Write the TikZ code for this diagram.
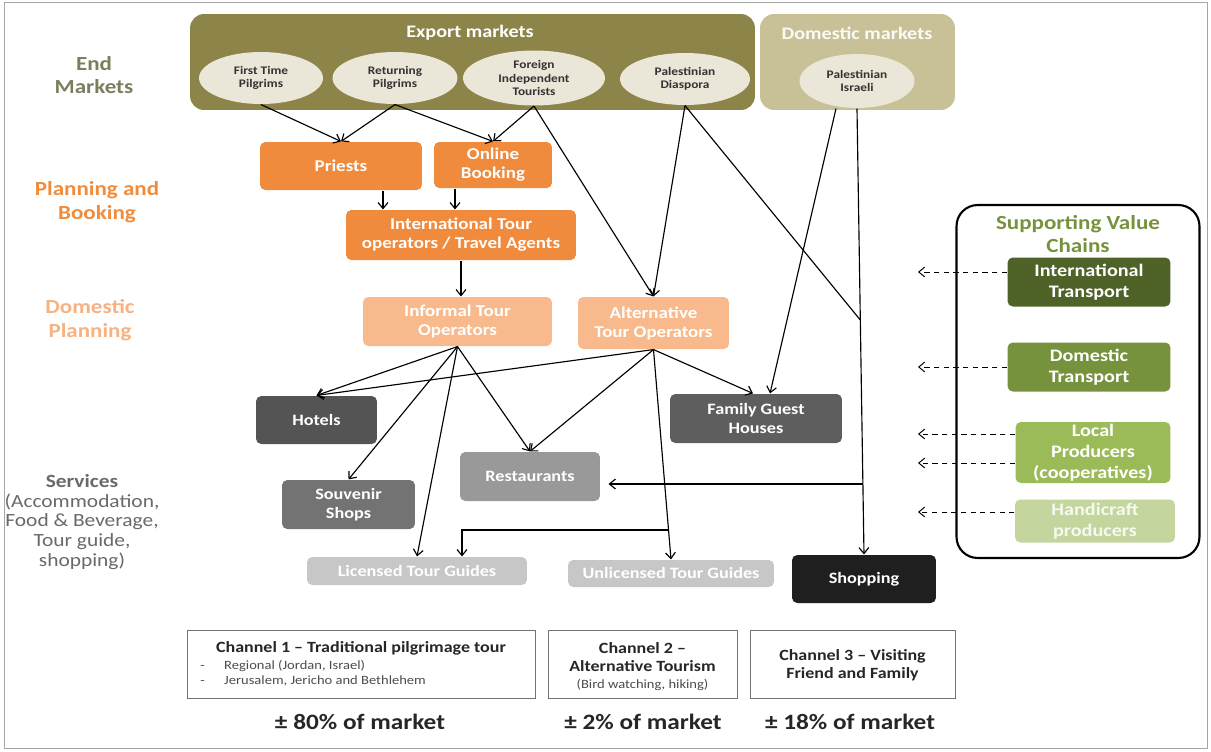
\documentclass[tikz,border=0pt]{standalone}
\usepackage{fontspec}
\setmainfont{Carlito}[FakeStretch=1.15]
\usepackage{tikz}
\usepackage{xcolor}
\usetikzlibrary{arrows,arrows.meta,positioning,shapes}

\definecolor{expolive}{RGB}{140,132,72}
\definecolor{domolive}{RGB}{200,193,152}
\definecolor{ellbeige}{RGB}{234,231,216}
\definecolor{endcol}{RGB}{125,125,95}
\definecolor{planorange}{RGB}{240,140,60}
\definecolor{domorange}{RGB}{246,178,128}
\definecolor{boxorange}{RGB}{240,138,60}
\definecolor{lightorange}{RGB}{248,186,140}
\definecolor{servgray}{RGB}{105,105,105}
\definecolor{greenA}{RGB}{79,98,40}
\definecolor{greenB}{RGB}{118,146,60}
\definecolor{greenC}{RGB}{155,187,89}
\definecolor{greenD}{RGB}{196,214,158}

\begin{document}
\begin{tikzpicture}[x=0.02cm,y=-0.02cm,>={Straight Barb[length=3.4pt,width=5.6pt]},line width=0.65pt,
  box/.style={rectangle,rounded corners=3pt,text=white,align=center,inner sep=1pt,
    font=\fontsize{9.4}{10.8}\selectfont\bfseries},
  svbox/.style={box,font=\fontsize{9}{10.6}\selectfont\bfseries},
  gbox/.style={box,font=\fontsize{10}{11.8}\selectfont\bfseries},
  mkt/.style={ellipse,fill=ellbeige,inner sep=0pt,align=center,text=black!80,
    font=\fontsize{6.6}{7.7}\selectfont\bfseries},
  stage/.style={align=center,font=\fontsize{11.4}{13.6}\selectfont\bfseries},
  chbox/.style={rectangle,draw=black!55,line width=0.5pt,minimum height=1.36cm},
  chtext/.style={align=center,text=black!85,font=\fontsize{8.9}{10.4}\selectfont\bfseries},
  share/.style={text=black!85,font=\fontsize{12.5}{14}\selectfont\bfseries},
  dasharrow/.style={->,dashed,dash pattern=on 3pt off 2.5pt,line width=0.55pt}]
  \useasboundingbox (0,0) rectangle (1211,751);
  \draw[gray!70,line width=0.5pt] (4,2) rectangle (1207,748);

  % stages
  \node[stage,text=endcol] (endm) at (94,75) {End\\Markets};
  \node[stage,text=planorange] (plan) at (97,202) {Planning and\\Booking};
  \node[stage,text=domorange] (domp) at (90,320) {Domestic\\Planning};
  \node[align=center,text=servgray,font=\fontsize{10.6}{11.3}\selectfont] (serv) at (82,522)
    {\textbf{Services}\\(Accommodation,\\Food \& Beverage,\\Tour guide,\\shopping)};

  % end markets
  \node[rectangle,rounded corners=8pt,fill=expolive,minimum width=11.3cm,minimum height=1.92cm] (expm) at (472.5,62) {};
  \node[rectangle,rounded corners=8pt,fill=domolive,minimum width=3.9cm,minimum height=1.92cm] (domm) at (857.5,62) {};
  \node[text=white,font=\fontsize{10}{12}\selectfont\bfseries] (expt) at (470,33) {Export markets};
  \node[text=white!92!domolive,font=\fontsize{10}{12}\selectfont\bfseries] (domt) at (857,33) {Domestic markets};
  \node[mkt,minimum width=2.48cm,minimum height=1.04cm] (fp) at (261,78) {First Time\\Pilgrims};
  \node[mkt,minimum width=2.5cm,minimum height=1.04cm] (rp) at (395,78) {Returning\\Pilgrims};
  \node[mkt,minimum width=2.84cm,minimum height=1.1cm] (fit) at (534,78) {Foreign\\Independent\\Tourists};
  \node[mkt,minimum width=2.6cm,minimum height=1.04cm] (dia) at (685,79) {Palestinian\\Diaspora};
  \node[mkt,minimum width=2.3cm,minimum height=1.08cm] (isr) at (857,81) {Palestinian\\Israeli};

  % planning and booking
  \node[box,fill=boxorange,minimum width=3.24cm,minimum height=0.96cm] (priests) at (341,166) {Priests};
  \node[box,fill=boxorange,minimum width=2.36cm,minimum height=0.92cm] (online) at (493,165) {Online\\Booking};
  \node[box,fill=boxorange,minimum width=4.6cm,minimum height=1cm] (intl) at (461,235) {International Tour\\operators / Travel Agents};
  \node[box,fill=lightorange,minimum width=3.78cm,minimum height=0.98cm] (informal) at (457.5,321.5) {Informal Tour\\Operators};
  \node[box,fill=lightorange,minimum width=3.02cm,minimum height=1.04cm] (alt) at (653.5,323) {Alternative\\Tour Operators};

  % services
  \node[svbox,fill=black!67,minimum width=2.42cm,minimum height=0.96cm] (hotels) at (316.5,420) {Hotels};
  \node[svbox,fill=black!63,minimum width=3.44cm,minimum height=0.98cm] (fgh) at (756,418.5) {Family Guest\\Houses};
  \node[svbox,fill=black!55,minimum width=2.66cm,minimum height=0.98cm] (souv) at (348.5,504.5) {Souvenir\\Shops};
  \node[svbox,fill=black!40,minimum width=2.8cm,minimum height=0.98cm] (rest) at (530,476.5) {Restaurants};
  \node[svbox,fill=black!22,minimum width=4.4cm,minimum height=0.56cm] (lic) at (417,571) {Licensed Tour Guides};
  \node[svbox,fill=black!22,minimum width=4.12cm,minimum height=0.54cm] (unl) at (671,573.5) {Unlicensed Tour Guides};
  \node[svbox,fill=black!88,minimum width=2.88cm,minimum height=0.96cm] (shop) at (864,579) {Shopping};

  % supporting value chains
  \node[rectangle,draw=black,line width=1.2pt,rounded corners=12pt,minimum width=4.86cm,minimum height=7.06cm] (svc) at (1078,381.5) {};
  \node[align=center,text=greenB,font=\fontsize{11.4}{12.6}\selectfont\bfseries] (svct) at (1078,234) {Supporting Value\\Chains};
  \node[gbox,fill=greenA,minimum width=3.26cm,minimum height=0.98cm] (itr) at (1089,282) {International\\Transport};
  \node[gbox,fill=greenB,minimum width=3.26cm,minimum height=0.98cm] (dtr) at (1089,367) {Domestic\\Transport};
  \node[gbox,fill=greenC,minimum width=3.1cm,minimum height=1.22cm] (lpr) at (1093,452.5) {Local\\Producers\\(cooperatives)};
  \node[gbox,fill=greenD,minimum width=3.2cm,minimum height=0.86cm,text=white!85!greenD] (hcp) at (1095,521) {Handicraft\\producers};

  % channels
  \node[chbox,minimum width=6.96cm] (ch1) at (361,664) {};
  \node[chbox,minimum width=3.78cm] (ch2) at (642.5,664) {};
  \node[chbox,minimum width=4.1cm] (ch3) at (852.5,664) {};
  \node[chtext] (ch1t) at (361,648) {Channel 1 -- Traditional pilgrimage tour};
  \node[anchor=west,align=left,text=black!70,font=\fontsize{7.2}{8.6}\selectfont] (ch1b) at (194,673)
    {-\hspace{11pt}Regional (Jordan, Israel)\\-\hspace{11pt}Jerusalem, Jericho and Bethlehem};
  \node[chtext] (ch2t) at (642.5,657) {Channel 2 --\\Alternative Tourism};
  \node[text=black!70,font=\fontsize{7.2}{8.6}\selectfont] (ch2b) at (642.5,685) {(Bird watching, hiking)};
  \node[chtext] (ch3t) at (852.5,665) {Channel 3 -- Visiting\\Friend and Family};
  \node[share] (sh1) at (360,722) {± 80\% of market};
  \node[share] (sh2) at (643,722) {± 2\% of market};
  \node[share] (sh3) at (850,722) {± 18\% of market};

  % end markets to booking
  \draw[->] (fp.south) -- (priests.north);
  \draw[->] (rp.south) -- (priests.north);
  \draw[->] (rp.south) -- (online.north);
  \draw[->] (fit.south) -- (online.north);
  \draw[->] (fit.south) -- (alt.north);
  \draw[->] (dia.south) -- (alt.north);
  \coordinate (j1) at (860.3,320);
  \coordinate (j2) at (862.9,484);
  \draw (dia.south) -- (j1);
  \draw[->] (isr.south) -- (shop.north);
  \draw[->] ([xshift=-0.42cm]isr.south) -- ([xshift=0.28cm]fgh.north);
  \draw[->,shorten >=0.16cm] (j2) -- (rest.east |- j2);

  % booking to domestic planning
  \draw[->] ([xshift=0.84cm]priests.south) -- ([xshift=0.84cm]priests.south |- intl.north);
  \draw[->] ([xshift=-0.76cm]online.south) -- ([xshift=-0.76cm]online.south |- intl.north);
  \draw[->] (intl.south) -- (intl.south |- informal.north);

  % domestic planning to services
  \draw[->] (informal.south) -- (hotels.north);
  \draw[->] (alt.south) -- (hotels.north);
  \draw[->] (informal.south) -- (souv.north);
  \draw[->] (informal.south) -- (lic.north);
  \draw[->] (informal.south) -- (rest.north);
  \draw[->] (alt.south) -- (rest.north);
  \draw[->] (alt.south) -- ([xshift=-0.06cm]fgh.north);
  \draw[->] (alt.south) -- (unl.north);
  \coordinate (j3) at (668.5,530);
  \draw[->] (j3) -| ([xshift=0.9cm]lic.north);

  % supporting value chains
  \coordinate (d1) at (918,272);
  \coordinate (d2) at (918,367);
  \coordinate (d3) at (918,434);
  \coordinate (d4) at (918,463);
  \coordinate (d5) at (918,512);
  \draw[dasharrow] (itr.west |- d1) -- (d1);
  \draw[dasharrow] (dtr.west |- d2) -- (d2);
  \draw[dasharrow] (lpr.west |- d3) -- (d3);
  \draw[dasharrow] (lpr.west |- d4) -- (d4);
  \draw[dasharrow] (hcp.west |- d5) -- (d5);
\end{tikzpicture}
\end{document}
